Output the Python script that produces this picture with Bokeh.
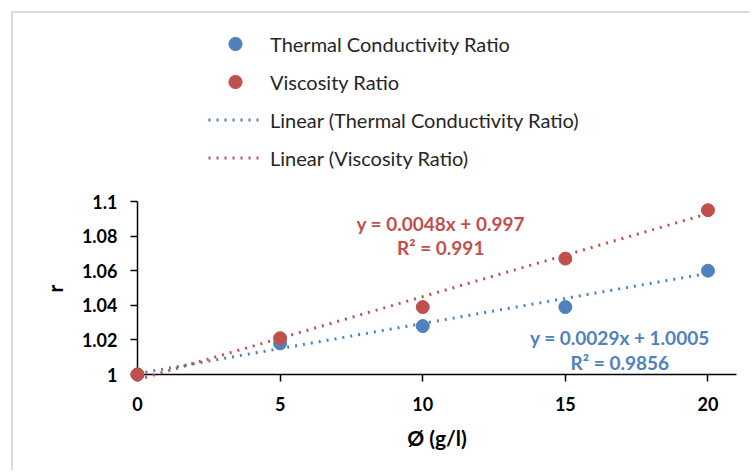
from bokeh.plotting import figure
from bokeh.models import Legend, LegendItem, FixedTicker, Range1d, Label
from bokeh.embed import file_html
from bokeh.resources import INLINE

# ---- data ----
phi = [0, 5, 10, 15, 20]
thermal_ratio = [1.0, 1.018, 1.028, 1.039, 1.060]
viscosity_ratio = [1.0, 1.021, 1.039, 1.067, 1.095]

thermal_slope, thermal_intercept = 0.0029, 1.0005
viscosity_slope, viscosity_intercept = 0.0048, 0.997
thermal_eq = ["y = 0.0029x + 1.0005", "R² = 0.9856"]
viscosity_eq = ["y = 0.0048x + 0.997", "R² = 0.991"]

x_ticks = [0, 5, 10, 15, 20]
y_ticks = [1.0, 1.02, 1.04, 1.06, 1.08, 1.1]
y_tick_labels = ["1", "1.02", "1.04", "1.06", "1.08", "1.1"]

series_names = ["Thermal Conductivity Ratio", "Viscosity Ratio"]
BLUE = "#4F81BD"
RED = "#C0504D"
FONT = "Lato"

# frame extends upward (blank) so the legend sits inside it; axis bounded to 1-1.1
p = figure(width=738, height=459, output_backend="svg", toolbar_location=None,
           x_range=Range1d(0, 21), y_range=Range1d(1.0, 1.2087),
           min_border_left=124, min_border_right=15, min_border_top=0,
           min_border_bottom=98)
p.styles = {"border-left": "2px solid #d9d9d9", "border-top": "2px solid #d9d9d9",
            "margin-left": "11px", "margin-top": "11px"}
p.outline_line_color = None
p.xgrid.visible = False
p.ygrid.visible = False
p.background_fill_color = "white"
p.border_fill_color = "white"

# trendlines
tx = [min(phi), max(phi)]
t_line = p.line(tx, [thermal_slope * v + thermal_intercept for v in tx], line_color=BLUE,
                line_width=3, line_dash="2 6")
v_line = p.line(tx, [viscosity_slope * v + viscosity_intercept for v in tx], line_color=RED,
                line_width=3, line_dash="2 6")
for r in (t_line, v_line):
    r.level = "overlay"

t_pts = p.scatter(phi, thermal_ratio, size=13, color=BLUE, level="overlay")
v_pts = p.scatter(phi, viscosity_ratio, size=13, color=RED, level="overlay")

# axes
for ax in (p.xaxis[0], p.yaxis[0]):
    ax.axis_line_color = "black"
    ax.axis_line_width = 1.5
    ax.major_tick_line_color = "black"
    ax.major_tick_line_width = 1.5
    ax.major_tick_out = 7
    ax.major_tick_in = 0
    ax.minor_tick_line_color = None
    ax.major_label_text_font = FONT
    ax.major_label_text_font_style = "bold"
    ax.major_label_text_font_size = "18px"
    ax.major_label_text_color = "black"
    ax.axis_label_text_font = FONT
    ax.axis_label_text_font_style = "bold"
    ax.axis_label_text_font_size = "21px"
    ax.axis_label_text_color = "black"

p.yaxis.bounds = (y_ticks[0], y_ticks[-1])
p.xaxis.ticker = FixedTicker(ticks=x_ticks)
p.yaxis.ticker = FixedTicker(ticks=y_ticks)
p.yaxis.major_label_overrides = {t: l for t, l in zip(y_ticks, y_tick_labels)}
p.xaxis.major_label_standoff = 15
p.yaxis.major_label_standoff = 13
p.xaxis.axis_label = "Ø (g/l)"
# em spaces keep the rotated label centred on the bounded 1-1.1 part of the axis
p.yaxis.axis_label = "r" + "\u2003" * 12
p.xaxis.axis_label_standoff = 11
p.yaxis.axis_label_standoff = 12

# equation labels
def add_eq(lines, x, ys, color):
    for txt, y in zip(lines, ys):
        p.add_layout(Label(x=x, y=y, text=txt, text_align="center", text_baseline="middle",
                           text_font=FONT, text_font_style="bold", text_font_size="19px",
                           text_color=color))

add_eq(viscosity_eq, 10.63, [1.0873, 1.0734], RED)
add_eq(thermal_eq, 16.91, [1.0214, 1.0069], BLUE)

legend = Legend(items=[
    LegendItem(label=series_names[0], renderers=[t_pts]),
    LegendItem(label=series_names[1], renderers=[v_pts]),
    LegendItem(label="Linear (" + series_names[0] + ")", renderers=[t_line]),
    LegendItem(label="Linear (" + series_names[1] + ")", renderers=[v_line]),
], location=(71, 200))
legend.border_line_color = None
legend.background_fill_alpha = 0
legend.padding = 0
legend.margin = 0
legend.glyph_width = 54
legend.glyph_height = 33
legend.label_height = 33
legend.spacing = 5
legend.label_standoff = 8
legend.label_text_font = FONT
legend.label_text_font_size = "20px"
legend.label_text_color = "#262626"
p.add_layout(legend, "center")

open("out.html", "w").write(file_html(p, INLINE))
